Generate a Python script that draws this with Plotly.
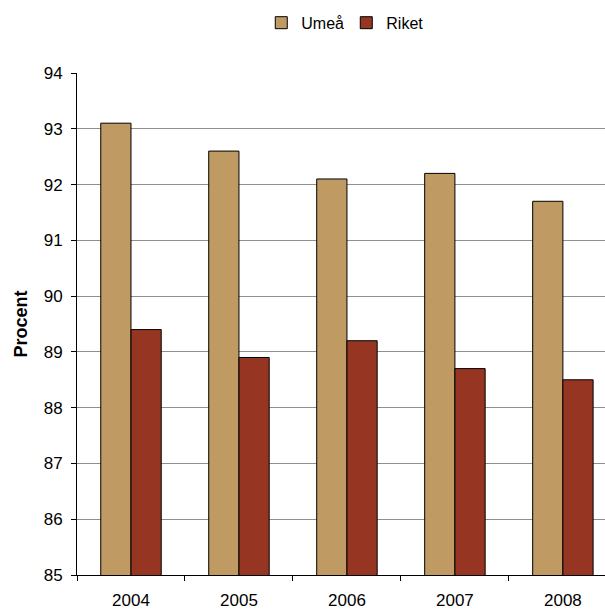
import plotly.graph_objects as go

years = ["2004", "2005", "2006", "2007", "2008"]
umea = [93.1, 92.6, 92.1, 92.2, 91.7]
riket = [89.4, 88.9, 89.2, 88.7, 88.5]

fig = go.Figure()
fig.add_trace(go.Bar(x=years, y=umea, name="Umeå",
                     marker=dict(color="#BF9A62", line=dict(color="black", width=1))))
fig.add_trace(go.Bar(x=years, y=riket, name="Riket",
                     marker=dict(color="#963622", line=dict(color="black", width=1))))

fig.update_layout(
    width=605, height=610,
    margin=dict(l=77, r=0, t=73, b=35),
    plot_bgcolor="white", paper_bgcolor="white",
    font=dict(family="Liberation Sans, Arial, sans-serif", color="black", size=17),
    barmode="group", bargap=0.44, bargroupgap=0,
    legend=dict(orientation="h", x=0.51, xanchor="center", y=1.10, yanchor="middle",
                font=dict(size=16), itemwidth=30, traceorder="normal",
                entrywidth=40, entrywidthmode="pixels"),
    showlegend=True,
)
fig.update_xaxes(
    type="category", range=[-0.5, 4.39],
    showline=True, linecolor="black", linewidth=1,
    ticks="outside", tickson="boundaries", ticklen=5, tickcolor="black",
    showgrid=False, tickfont=dict(size=17), ticklabelstandoff=10,
)
fig.update_yaxes(
    range=[85, 94], dtick=1,
    showline=True, linecolor="black", linewidth=1,
    ticks="outside", ticklen=5, tickcolor="black",
    showgrid=True, gridcolor="#8f8f8f", gridwidth=1,
    tickfont=dict(size=17), ticklabelstandoff=5,
    title=dict(text="<b>Procent</b>", font=dict(size=18), standoff=11),
)

fig.write_html("out.html")
